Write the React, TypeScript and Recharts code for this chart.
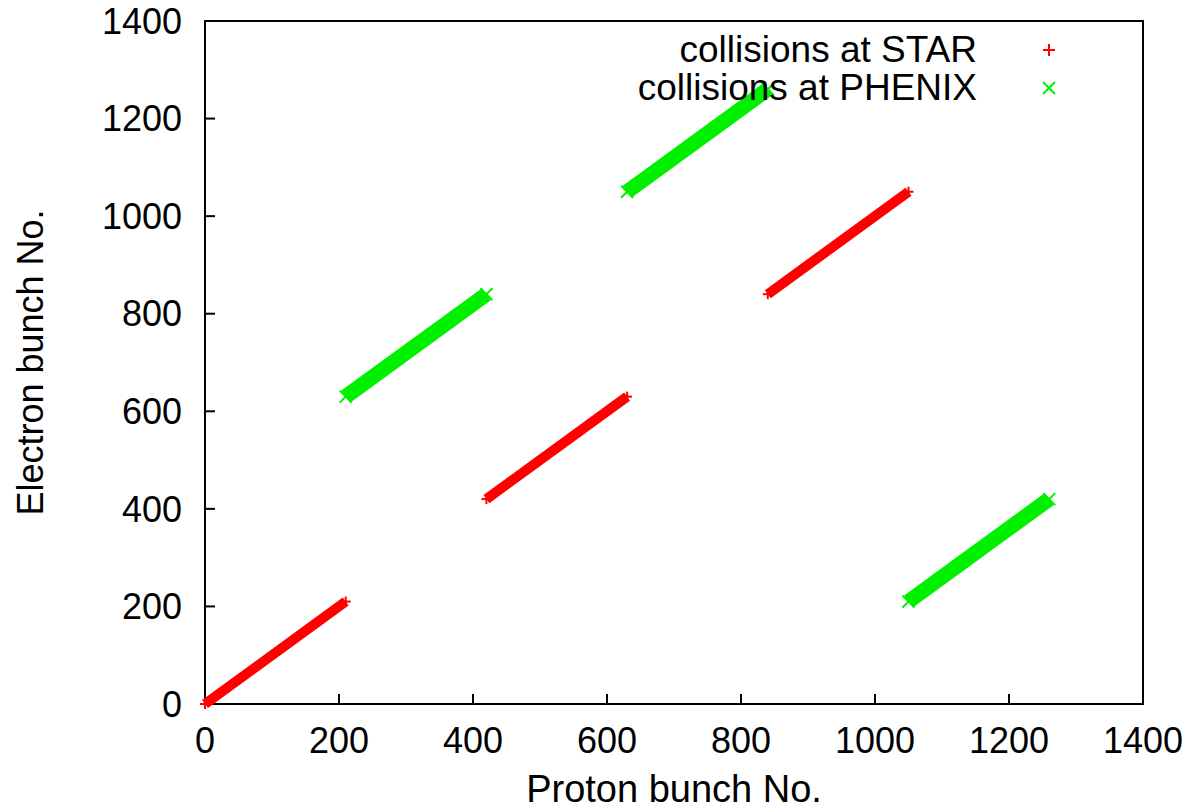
import { ScatterChart, Scatter, XAxis, YAxis, ReferenceArea } from "recharts"

const axisTicks = [0, 200, 400, 600, 800, 1000, 1200, 1400]
const axisDomain = [0, 1400]

// first and last bunch of each run of collisions: [start, end]
const starProton = [[0, 210], [420, 630], [840, 1050]]
const starElectron = [[0, 210], [420, 630], [840, 1050]]
const phenixProton = [[210, 420], [630, 840], [1050, 1260]]
const phenixElectron = [[630, 840], [1050, 1260], [210, 420]]

const seriesNames = ["collisions at STAR", "collisions at PHENIX"]
const seriesColors = ["#ff0000", "#00f000"]

const FONT = '"Liberation Sans", Arial, Helvetica, sans-serif'

const toRuns = (proton: number[][], electron: number[][]) =>
  proton.map((p, i) => p.map((x, j) => ({ x, y: electron[i][j] })))

const starRuns = toRuns(starProton, starElectron)
const phenixRuns = toRuns(phenixProton, phenixElectron)

function PlusMark({ cx, cy, r, color }: { cx: number; cy: number; r: number; color: string }) {
  return (
    <g stroke={color} strokeWidth={2}>
      <line x1={cx - r} y1={cy} x2={cx + r} y2={cy} />
      <line x1={cx} y1={cy - r} x2={cx} y2={cy + r} />
    </g>
  )
}

function CrossMark({ cx, cy, r, color }: { cx: number; cy: number; r: number; color: string }) {
  return (
    <g stroke={color} strokeWidth={2}>
      <line x1={cx - r} y1={cy - r} x2={cx + r} y2={cy + r} />
      <line x1={cx - r} y1={cy + r} x2={cx + r} y2={cy - r} />
    </g>
  )
}

// gnuplot-style key in the top right corner
function KeyBox() {
  return (
    <div style={{ position: "absolute", top: 31, left: 600, fontFamily: FONT, fontSize: 37, color: "#000" }}>
      {seriesNames.map((name, i) => (
        <div key={name} style={{ display: "flex", alignItems: "center", height: 38 }}>
          <div style={{ width: 377, textAlign: "right", whiteSpace: "nowrap", lineHeight: "38px" }}>{name}</div>
          <svg width={120} height={38} style={{ display: "block" }}>
            {i === 0 ? (
              <PlusMark cx={72} cy={19} r={6} color={seriesColors[0]} />
            ) : (
              <CrossMark cx={72} cy={19} r={6} color={seriesColors[1]} />
            )}
          </svg>
        </div>
      ))}
    </div>
  )
}

const axisLine = { stroke: "#000", strokeWidth: 2 }
const tickStyle = { fontSize: 36, fill: "#000", fontFamily: FONT }

export default function App() {
  return (
    <div style={{ position: "absolute", left: 0, top: 0, width: 1194, height: 811, background: "#fff" }}>
      <ScatterChart width={1194} height={811} margin={{ top: 21, right: 51, bottom: 7, left: 25 }}>
        <XAxis
          type="number"
          dataKey="x"
          domain={axisDomain}
          ticks={axisTicks}
          interval={0}
          height={100}
          axisLine={axisLine}
          tickLine={axisLine}
          tickSize={-10}
          tickMargin={33}
          tick={tickStyle}
          label={{ value: "Proton bunch No.", position: "insideBottom", offset: 2, fontSize: 38, fill: "#000", fontFamily: FONT }}
        />
        <YAxis
          type="number"
          dataKey="y"
          domain={axisDomain}
          ticks={axisTicks}
          interval={0}
          width={180}
          axisLine={axisLine}
          tickLine={axisLine}
          tickSize={-10}
          tickMargin={33}
          tick={tickStyle}
          label={{
            value: "Electron bunch No.",
            angle: -90,
            position: "insideLeft",
            offset: 5,
            fontSize: 36,
            fill: "#000",
            fontFamily: FONT,
            style: { textAnchor: "middle" },
          }}
        />
        {/* plot box outline, closes the frame on the top and right */}
        <ReferenceArea
          x1={0}
          x2={1400}
          y1={0}
          y2={1400}
          fill="none"
          fillOpacity={0}
          stroke="#000"
          strokeWidth={2}
          strokeOpacity={1}
          ifOverflow="visible"
        />
        {starRuns.map((run, i) => (
          <Scatter
            key={`star-${i}`}
            name={seriesNames[0]}
            data={run}
            fill={seriesColors[0]}
            line={{ stroke: seriesColors[0], strokeWidth: 10 }}
            shape={(p: any) => <PlusMark cx={p.cx} cy={p.cy} r={5} color={seriesColors[0]} />}
            isAnimationActive={false}
          />
        ))}
        {phenixRuns.map((run, i) => (
          <Scatter
            key={`phenix-${i}`}
            name={seriesNames[1]}
            data={run}
            fill={seriesColors[1]}
            line={{ stroke: seriesColors[1], strokeWidth: 15 }}
            shape={(p: any) => <CrossMark cx={p.cx} cy={p.cy} r={6} color={seriesColors[1]} />}
            isAnimationActive={false}
          />
        ))}
      </ScatterChart>
      <KeyBox />
    </div>
  )
}
